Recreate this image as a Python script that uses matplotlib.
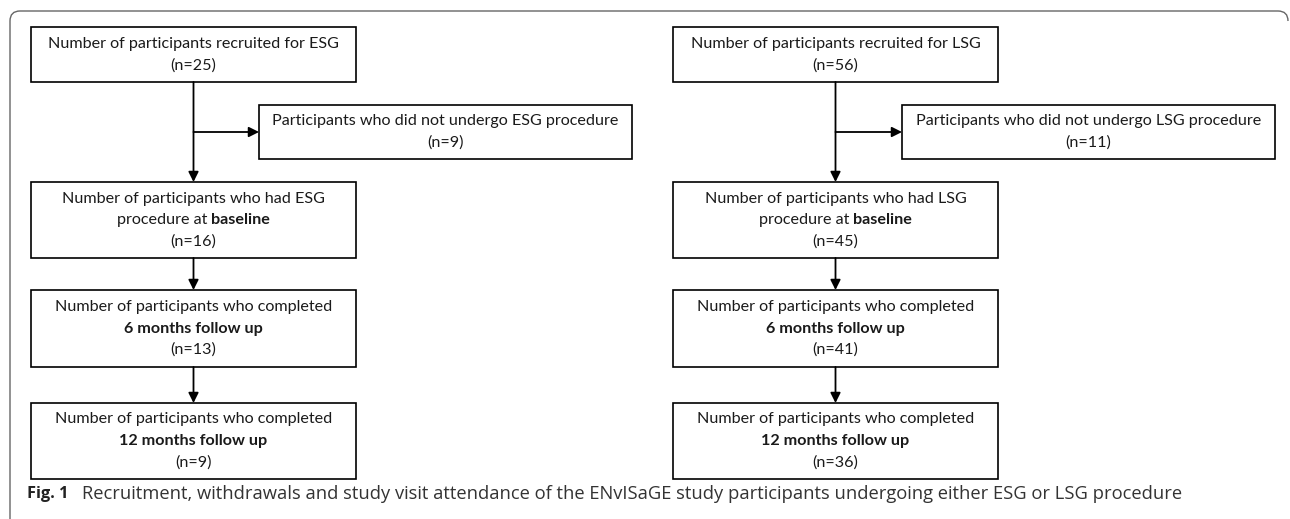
import matplotlib.pyplot as plt
from matplotlib.path import Path
from matplotlib.patches import PathPatch, Rectangle

# ============================================================
# Data
# ============================================================
groups = ['ESG', 'LSG']
recruited = [25, 56]
not_undergo = [9, 11]
baseline = [16, 45]
month6 = [13, 41]
month12 = [9, 36]

caption_label = 'Fig. 1'
caption_text = ('Recruitment, withdrawals and study visit attendance of the ENvISaGE '
                'study participants undergoing either ESG or LSG procedure')

# ============================================================
# Layout (pixels, y downwards)
# ============================================================
W, H = 1290, 519
col_x = [31, 673]
box_w = 325
side_x = [259, 902]
side_w = 373
rows = [(27, 82), (182, 258), (290, 367), (403, 479)]
side_row = (105, 159)
branch_y = 132

FONT = 'Lato'
FS = 11.6
LINE = 21.5
TXT = '#1a1a1a'

fig = plt.figure(figsize=(W / 100, H / 100), dpi=100)
ax = fig.add_axes([0, 0, 1, 1])
ax.set_xlim(0, W)
ax.set_ylim(H, 0)
ax.axis('off')
renderer = fig.canvas.get_renderer()


def draw_line(xc, y, segments, fs=FS, family=FONT, color=TXT):
    """Draw one line made of (text, weight) pieces, centred on xc."""
    items = []
    total = 0
    for s, w in segments:
        t = ax.text(0, y, s, fontsize=fs, fontweight=w, family=family,
                    color=color, va='center', ha='left')
        wd = t.get_window_extent(renderer).width
        items.append((t, wd))
        total += wd
    x = xc - total / 2
    for t, wd in items:
        t.set_x(x)
        x += wd


def draw_box(x, top, bottom, w, lines):
    ax.add_patch(Rectangle((x, top), w, bottom - top, fill=False,
                           edgecolor='black', linewidth=1.2))
    yc = (top + bottom) / 2
    n = len(lines)
    for i, segs in enumerate(lines):
        draw_line(x + w / 2, yc + (i - (n - 1) / 2) * LINE, segs)


def arrow(x0, y0, x1, y1):
    ax.annotate('', xy=(x1, y1), xytext=(x0, y0),
                arrowprops=dict(arrowstyle='-|>,head_length=0.6,head_width=0.3',
                                color='black', lw=1.3, shrinkA=0, shrinkB=0))


for i, g in enumerate(groups):
    cx = col_x[i] + box_w / 2
    draw_box(col_x[i], rows[0][0], rows[0][1], box_w,
             [[(f'Number of participants recruited for {g}', 'normal')],
              [(f'(n={recruited[i]})', 'normal')]])
    draw_box(side_x[i], side_row[0], side_row[1], side_w,
             [[(f'Participants who did not undergo {g} procedure', 'normal')],
              [(f'(n={not_undergo[i]})', 'normal')]])
    draw_box(col_x[i], rows[1][0], rows[1][1], box_w,
             [[(f'Number of participants who had {g}', 'normal')],
              [('procedure at ', 'normal'), ('baseline', 'bold')],
              [(f'(n={baseline[i]})', 'normal')]])
    draw_box(col_x[i], rows[2][0], rows[2][1], box_w,
             [[('Number of participants who completed', 'normal')],
              [('6 months follow up', 'bold')],
              [(f'(n={month6[i]})', 'normal')]])
    draw_box(col_x[i], rows[3][0], rows[3][1], box_w,
             [[('Number of participants who completed', 'normal')],
              [('12 months follow up', 'bold')],
              [(f'(n={month12[i]})', 'normal')]])

    arrow(cx, rows[0][1], cx, rows[1][0])
    arrow(cx, branch_y, side_x[i], branch_y)
    arrow(cx, rows[1][1], cx, rows[2][0])
    arrow(cx, rows[2][1], cx, rows[3][0])

# outer frame: left side and top with rounded corners
r = 10
verts = [(10, H + 5), (10, 11 + r), (10, 11), (10 + r, 11),
         (1288 - r, 11), (1288, 11), (1288, 11 + r)]
codes = [Path.MOVETO, Path.LINETO, Path.CURVE3, Path.CURVE3,
         Path.LINETO, Path.CURVE3, Path.CURVE3]
ax.add_patch(PathPatch(Path(verts, codes), fill=False, edgecolor='#666666',
                       linewidth=1.0, clip_on=False))

# caption
ax.text(27, 494, caption_label, fontsize=11.8, fontweight='bold', family='Open Sans',
        color='#222222', va='center', ha='left')
ax.text(82, 494, caption_text, fontsize=13.2, family='Open Sans',
        color='#333333', va='center', ha='left')

plt.savefig('out.png', dpi=100)
